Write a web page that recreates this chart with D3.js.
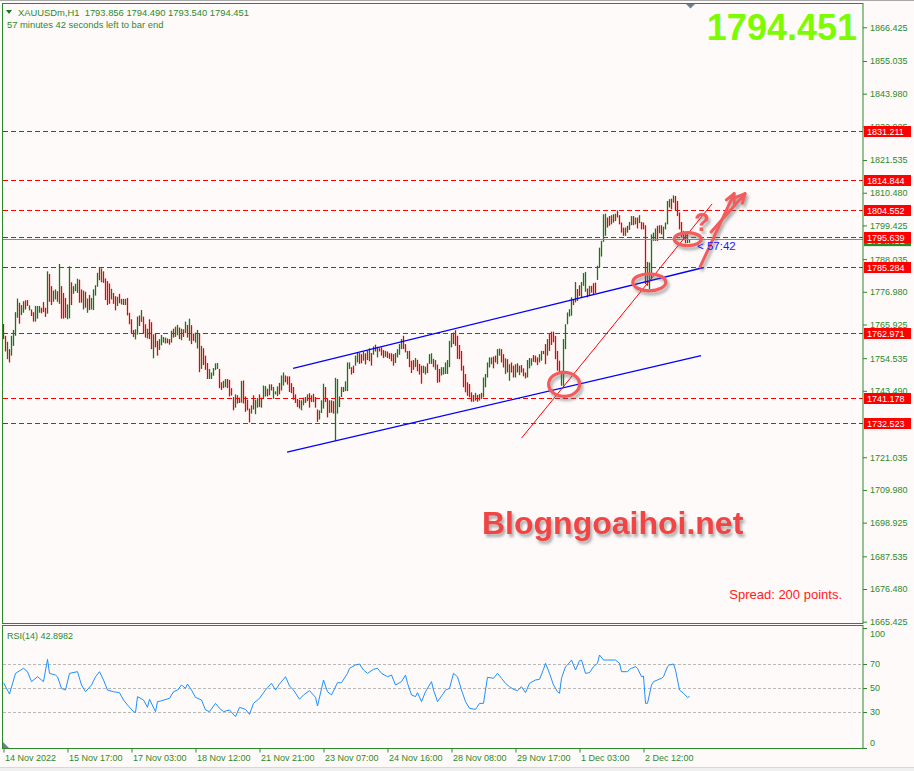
<!DOCTYPE html>
<html>
<head>
<meta charset="utf-8">
<title>XAUUSDm,H1</title>
<script src="https://cdn.jsdelivr.net/npm/d3@7"></script>
<style>
  * { margin: 0; padding: 0; }
  body { background: #fffafa; }
  svg { display: block; font-family: "Liberation Sans", Arial, sans-serif; }
</style>
</head>
<body>
<svg id="chart" width="914" height="771"></svg>
<script>
// ---- data (H1 bars, oldest first) ----
const highs = [
  1766.1,1762.1,1760.1,1757.6,1762.1,1764.1,1770.1,1774.7,1773.3,1772.5,
  1773.8,1774.1,1774.2,1772.4,1771.0,1770.1,1772.2,1772.2,1772.2,1771.6,
  1773.5,1771.6,1783.9,1783.0,1778.9,1777.4,1777.8,1777.2,1786.4,1778.9,
  1776.6,1774.9,1772.7,1785.6,1780.2,1778.9,1779.7,1781.4,1781.1,1777.8,
  1777.4,1777.0,1774.7,1775.9,1774.9,1777.8,1779.2,1783.4,1785.3,1784.9,
  1783.9,1781.5,1780.6,1779.8,1778.0,1776.6,1775.5,1775.3,1776.3,1774.6,
  1774.6,1774.6,1774.9,1769.9,1767.7,1764.1,1764.3,1768.6,1769.0,1770.8,
  1768.6,1766.0,1764.5,1767.7,1766.7,1762.6,1763.0,1760.4,1761.0,1762.4,
  1761.7,1761.5,1761.2,1761.0,1763.8,1764.5,1765.2,1765.8,1764.9,1764.5,
  1764.3,1766.9,1765.8,1767.9,1765.7,1762.9,1763.2,1764.1,1763.0,1758.7,
  1757.9,1755.4,1752.9,1750.9,1749.7,1751.2,1752.8,1752.9,1750.9,1746.4,
  1746.9,1747.5,1747.5,1747.2,1744.4,1741.4,1742.3,1742.0,1741.2,1746.8,
  1747.0,1741.6,1740.5,1737.5,1738.6,1742.0,1740.5,1741.1,1742.3,1741.2,
  1745.3,1745.1,1744.2,1745.7,1745.7,1744.8,1743.3,1745.0,1746.2,1748.7,
  1749.7,1748.7,1748.4,1748.4,1746.1,1744.8,1742.3,1740.8,1740.5,1740.3,
  1741.2,1741.4,1742.3,1742.7,1742.0,1742.5,1741.4,1737.2,1736.9,1740.3,
  1745.9,1744.8,1740.8,1740.3,1740.3,1740.0,1747.9,1747.5,1741.6,1744.8,
  1744.8,1746.7,1753.1,1753.1,1751.5,1752.0,1755.4,1756.5,1756.3,1755.9,
  1756.8,1756.2,1757.1,1757.9,1756.3,1758.5,1759.1,1758.4,1757.9,1758.2,
  1757.3,1757.0,1756.8,1756.2,1756.2,1755.9,1756.3,1757.6,1759.3,1761.0,
  1762.1,1759.3,1757.0,1757.0,1753.7,1753.9,1754.6,1754.0,1752.6,1752.0,
  1752.0,1751.7,1752.8,1755.9,1756.2,1754.3,1753.9,1752.4,1750.9,1751.5,
  1751.5,1753.1,1753.9,1760.4,1762.9,1763.2,1764.0,1762.1,1759.0,1757.0,
  1752.0,1749.2,1746.4,1745.8,1743.0,1742.1,1742.8,1742.1,1742.4,1742.8,
  1748.0,1749.2,1753.1,1754.8,1754.8,1755.1,1755.4,1757.6,1757.8,1757.6,
  1755.9,1754.5,1754.2,1752.5,1753.1,1752.0,1752.5,1752.8,1752.0,1752.2,
  1751.1,1749.7,1753.9,1754.6,1754.5,1755.6,1755.4,1754.8,1755.9,1757.0,
  1757.0,1759.3,1761.0,1763.0,1763.5,1763.5,1762.1,1757.0,1753.7,1750.3,
  1761.0,1766.0,1770.0,1771.1,1775.1,1774.5,1780.3,1777.9,1779.2,1780.3,
  1783.3,1783.7,1778.1,1779.0,1779.0,1779.9,1780.1,1785.8,1791.9,1794.2,
  1803.2,1803.4,1802.1,1802.6,1802.9,1803.2,1803.4,1804.5,1802.9,1800.4,
  1798.7,1798.7,1799.3,1800.6,1802.6,1802.6,1802.1,1802.1,1802.9,1800.6,
  1800.4,1799.5,1787.1,1786.9,1796.4,1797.0,1798.4,1799.3,1799.5,1799.5,
  1799.0,1800.4,1807.7,1808.3,1808.5,1809.6,1809.4,1807.7,1803.8,1800.6,
  1797.6,1797.0,1796.4,1794.49
];
const lows = [
  1761.0,1756.8,1754.2,1753.1,1755.4,1758.7,1762.1,1768.2,1766.2,1769.1,
  1769.9,1771.0,1772.2,1770.7,1768.8,1766.9,1766.9,1767.9,1769.9,1769.7,
  1770.1,1768.5,1769.6,1773.6,1772.5,1773.6,1774.4,1773.6,1772.9,1767.9,
  1767.9,1768.2,1767.7,1768.0,1772.5,1776.3,1777.2,1776.6,1773.3,1773.3,
  1771.0,1771.6,1769.9,1770.8,1771.0,1770.8,1775.7,1778.7,1780.9,1780.2,
  1780.0,1774.2,1772.5,1772.9,1774.4,1772.9,1770.7,1772.2,1773.1,1772.7,
  1772.5,1772.5,1769.0,1766.0,1763.0,1761.7,1760.9,1762.5,1765.4,1766.8,
  1763.0,1761.5,1761.2,1761.0,1757.6,1754.5,1758.2,1755.4,1757.3,1758.9,
  1759.8,1759.5,1759.6,1759.1,1759.8,1761.5,1761.7,1762.3,1761.0,1760.6,
  1761.7,1763.0,1761.5,1760.4,1759.3,1760.4,1759.8,1757.8,1749.8,1750.9,
  1752.2,1750.6,1747.5,1747.5,1747.5,1748.6,1750.5,1750.9,1744.4,1743.8,
  1744.4,1744.7,1744.4,1741.6,1741.9,1736.9,1737.8,1739.2,1739.4,1739.5,
  1739.2,1736.4,1736.9,1732.8,1735.8,1737.2,1735.6,1737.8,1738.0,1737.8,
  1740.8,1741.6,1741.6,1742.0,1743.6,1740.8,1742.3,1741.7,1742.3,1743.6,
  1745.3,1746.4,1745.6,1743.1,1742.7,1740.5,1739.4,1738.0,1737.5,1736.9,
  1738.6,1739.4,1740.0,1737.8,1739.7,1739.7,1737.8,1733.0,1733.8,1736.0,
  1737.5,1739.7,1734.5,1736.0,1736.1,1735.8,1726.6,1735.8,1738.0,1741.4,
  1743.1,1743.4,1743.4,1750.9,1749.0,1749.5,1752.0,1753.1,1752.6,1752.8,
  1753.7,1752.4,1753.9,1753.5,1752.0,1755.7,1756.8,1754.8,1756.8,1755.4,
  1754.6,1755.0,1754.6,1754.3,1753.5,1752.0,1752.9,1754.8,1755.7,1757.6,
  1757.6,1756.5,1754.3,1751.5,1749.5,1750.6,1751.5,1750.1,1749.0,1745.9,
  1749.5,1749.0,1749.5,1752.6,1752.6,1751.5,1750.6,1746.2,1746.4,1748.7,
  1749.0,1749.2,1749.2,1751.5,1758.2,1759.3,1758.7,1754.3,1754.2,1750.3,
  1744.7,1743.0,1741.8,1741.3,1739.8,1739.8,1740.2,1739.8,1740.2,1740.7,
  1741.3,1744.7,1748.0,1751.4,1752.5,1751.1,1753.1,1752.5,1755.4,1753.1,
  1751.4,1749.2,1749.7,1746.9,1749.7,1748.0,1748.0,1749.7,1748.8,1749.7,
  1748.4,1747.7,1748.0,1751.1,1752.0,1753.3,1753.1,1752.2,1753.1,1753.7,
  1755.9,1752.5,1755.4,1757.0,1759.0,1759.9,1754.2,1750.3,1749.7,1745.2,
  1745.2,1757.6,1766.0,1768.6,1768.9,1772.5,1773.4,1773.9,1775.6,1775.1,
  1779.0,1777.0,1775.1,1775.6,1776.7,1776.2,1776.5,1781.0,1785.2,1788.9,
  1793.9,1795.9,1798.7,1799.3,1799.8,1800.4,1800.9,1802.1,1799.8,1797.0,
  1795.9,1795.9,1797.0,1797.9,1799.5,1799.5,1799.8,1798.4,1800.2,1798.1,
  1798.1,1779.6,1779.0,1777.9,1781.2,1794.2,1794.2,1794.2,1796.8,1796.4,
  1794.8,1798.1,1799.8,1805.5,1804.9,1807.1,1804.3,1802.6,1798.1,1795.3,
  1794.8,1793.4,1793.4,1793.54
];
// u = bullish bar (green), d = bearish bar (red)
const barDirs = (
  "dduduuuudu" + "uddudduuud" + "ddudduudud" + "dduuduuudd" + "ududuuuudu" +
  "dddduddudu" + "dudddduudu" + "dduddudduu" + "uudduduudu" + "dududduudu" +
  "ddduuuuudd" + "uudddduddu" + "dddduduudu" + "uududuuudu" + "uddddddddu" +
  "udududdduu" + "uddudduuuu" + "duuudduudd" + "uddudududd" + "dudddduuuu" +
  "dduddduddd" + "uuduududdu" + "uuuuuddddd" + "ddddddudud" + "uuuuudduud" +
  "dududdudud" + "dduuuddduu" + "dduddddddu" + "uuuuududdu" + "uududdduuu" +
  "uuddududdd" + "duduududud" + "dduuuuudud" + "uuuududddd" + "dduu"
).split("");

// RSI(14) read at these bar indexes
const rsiBars = [0,3,6,10,12,14,17,20,22,23,26,27,29,31,33,37,39,41,44,46,48,50,52,55,58,60,62,65,66,67,
  70,72,73,76,77,79,83,85,87,89,91,92,94,96,99,101,103,106,108,110,113,116,118,121,123,125,128,131,134,136,
  138,141,143,145,148,150,153,156,157,160,162,164,167,169,172,173,176,178,180,182,185,187,189,192,194,196,199,201,202,204,
  206,207,209,211,214,215,217,220,221,223,225,227,229,231,233,236,238,240,241,242,245,247,249,251,253,255,257,259,261,263,
  266,268,270,271,273,275,277,278,279,281,282,284,286,288,289,291,293,295,297,298,300,302,306,308,309,312,313,314,316,317,
  319,320,321,322,324,325,327,329,330,332,333,335,336,338,340,342,343];
const rsiVals = [54.4,45,62.2,66.4,63.6,55.3,59.4,55.3,73.9,62.2,60.8,59.4,49.7,48.3,62.2,63.6,52.5,46.9,52.5,59.4,63.6,56.7,48.3,46.9,46.1,40,35.8,30.3,29.5,42.8,
  40,33.9,40.6,30.3,38.6,39.4,41.4,46.9,48.3,52.5,49.7,53.3,48.3,42.2,40,31.7,30.3,37.2,33.1,30.3,31.7,26.1,33.9,32.2,28,37.2,41.4,48.3,53.9,48.3,
  53.3,59.4,51.7,48.3,40.6,44.2,47.8,42.2,35,56.7,46.9,44.2,54.4,54.4,62.2,66.4,69.2,70,65,62.2,65.6,66.4,62.2,59.4,60.8,52.5,55.3,60.8,53.9,44.2,
  42.8,46.1,38.6,46.9,55.3,48.3,38.6,45.6,48.3,49.7,62.2,59.4,48.3,38.6,33.1,32.2,37.2,37.2,48.3,58.9,58.1,62.2,58.1,53.9,51.1,48.9,47.8,51.1,46.1,53.9,
  56.7,57.2,65.6,70.6,62.2,52.5,46.9,45.6,58.1,67.8,69.2,73.3,65,72.8,73.3,62.2,62.8,67.8,70.6,77.5,73.3,73.3,73.3,70.6,63.6,63.6,65.6,66.4,67.8,66.4,
  59.4,60,37.2,37.2,52.5,55.3,56.7,58.1,59.4,67.8,69.2,70,65,48.3,45.6,42.2,42.8982];

const priceTicks = [1866.425,1855.035,1843.980,1832.925,1821.535,1810.480,1799.425,1788.035,1776.980,
  1765.925,1754.535,1743.490,1721.035,1709.980,1698.925,1687.535,1676.480,1665.425];
const levels = [1831.211,1814.844,1804.552,1795.639,1785.284,1762.971,1741.178,1732.523];
const lastPrice = 1794.451;
const rsiLevels = [70, 50, 30];
const rsiTicks = [100, 70, 50, 30, 0];
const timeIdx = [0,32,64,96,128,160,192,224,256,288,320];
const timeLabels = ["14 Nov 2022","15 Nov 17:00","17 Nov 03:00","18 Nov 12:00","21 Nov 21:00","23 Nov 07:00",
  "24 Nov 16:00","28 Nov 08:00","29 Nov 17:00","1 Dec 03:00","2 Dec 12:00"];

// drawn objects: [bar index, price] anchors
const channelLines = [[[144.8,1751.1],[350.1,1785.2]], [[141.8,1722.8],[348.8,1755.4]]];
const trendLine = [[259,1727.5],[354.3,1806.7]];
const circles = [[280.3,1745.7,15.5,12], [322.9,1780.2,16.5,8.5], [342.1,1794.8,13.5,6.5]];
const arrows = [[[348.3,1785.4],[365.3,1810.2]], [[353.8,1797.2],[370.8,1810.2]]];

// ---- setup ----
const green = "#0e7c0e", red = "#ee0000", txtGreen = "#2a8a2a", frame = "#2a8a2a", mark = "#f25c5c";
const svg = d3.select("#chart");

const x = d3.scaleLinear().domain([0, 343]).range([3.5, 689.5]);
const y = d3.scaleLinear().domain([1665.425, 1866.425]).range([621.7, 27.3]);
const yr = d3.scaleLinear().domain([0, 100]).range([748, 628]);

const defs = svg.append("defs");
defs.append("clipPath").attr("id", "clipMain").append("rect")
  .attr("x", 3).attr("y", 4).attr("width", 860).attr("height", 619);
defs.append("clipPath").attr("id", "clipRsi").append("rect")
  .attr("x", 3).attr("y", 626).attr("width", 860).attr("height", 122);
defs.append("filter").attr("id", "shadow").attr("x", "-30%").attr("y", "-30%").attr("width", "160%").attr("height", "160%")
  .append("feDropShadow").attr("dx", 2).attr("dy", 3).attr("stdDeviation", 1.6)
  .attr("flood-color", "#666").attr("flood-opacity", 0.55);

svg.append("rect").attr("width", 914).attr("height", 771).attr("fill", "#fffafa");
svg.append("line").attr("x1", 0).attr("x2", 914).attr("y1", 0.5).attr("y2", 0.5).attr("stroke", "#a8a8a8");
svg.append("rect").attr("x", 0).attr("y", 767).attr("width", 914).attr("height", 4).attr("fill", "#f0f0f0");
svg.append("line").attr("x1", 0).attr("x2", 914).attr("y1", 767.5).attr("y2", 767.5).attr("stroke", "#d8d8d8");

// ---- main window ----
const main = svg.append("g").attr("clip-path", "url(#clipMain)");

main.selectAll("rect.bar").data(highs).join("rect")
  .attr("class", "bar")
  .attr("x", (d, i) => x(i) - 0.65)
  .attr("y", d => y(d))
  .attr("width", 1.3)
  .attr("height", (d, i) => Math.max(1, y(lows[i]) - y(d)))
  .attr("fill", (d, i) => barDirs[i] === "u" ? green : red);

main.selectAll("line.level").data(levels).join("line")
  .attr("class", "level")
  .attr("x1", 3).attr("x2", 863)
  .attr("y1", d => Math.round(y(d)) + 0.5).attr("y2", d => Math.round(y(d)) + 0.5)
  .attr("stroke", "#ff0000").attr("stroke-width", 1.1).attr("stroke-dasharray", "5,3")
  .attr("shape-rendering", "crispEdges");

main.append("line")
  .attr("x1", 3).attr("x2", 863)
  .attr("y1", Math.round(y(lastPrice)) - 0.5).attr("y2", Math.round(y(lastPrice)) - 0.5)
  .attr("stroke", "#8a8a8a").attr("shape-rendering", "crispEdges");

main.selectAll("line.channel").data(channelLines).join("line")
  .attr("class", "channel")
  .attr("x1", d => x(d[0][0])).attr("y1", d => y(d[0][1]))
  .attr("x2", d => x(d[1][0])).attr("y2", d => y(d[1][1]))
  .attr("stroke", "#0000ff").attr("stroke-width", 1.3);

main.append("line")
  .attr("x1", x(trendLine[0][0])).attr("y1", y(trendLine[0][1]))
  .attr("x2", x(trendLine[1][0])).attr("y2", y(trendLine[1][1]))
  .attr("stroke", "#ff0000").attr("stroke-width", 1);

// hand drawn annotations
const notes = main.append("g").attr("filter", "url(#shadow)");
notes.selectAll("ellipse").data(circles).join("ellipse")
  .attr("cx", d => x(d[0])).attr("cy", d => y(d[1]))
  .attr("rx", d => d[2]).attr("ry", d => d[3])
  .attr("fill", "none").attr("stroke", mark).attr("stroke-width", 3.2);

arrows.forEach(a => {
  const x1 = x(a[0][0]), y1 = y(a[0][1]), x2 = x(a[1][0]), y2 = y(a[1][1]);
  const ang = Math.atan2(y2 - y1, x2 - x1), len = 10, spread = 0.45;
  notes.append("line").attr("x1", x1).attr("y1", y1).attr("x2", x2).attr("y2", y2)
    .attr("stroke", mark).attr("stroke-width", 3).attr("stroke-linecap", "round");
  const p = [
    [x2 - len * Math.cos(ang - spread), y2 - len * Math.sin(ang - spread)],
    [x2, y2],
    [x2 - len * Math.cos(ang + spread), y2 - len * Math.sin(ang + spread)]
  ];
  notes.append("path").attr("d", d3.line()(p))
    .attr("fill", "none").attr("stroke", mark).attr("stroke-width", 3)
    .attr("stroke-linecap", "round").attr("stroke-linejoin", "round");
});

notes.append("text").attr("x", 694).attr("y", 231).text("?")
  .attr("fill", mark).attr("font-size", 26).attr("font-weight", "bold");

svg.append("text").attr("x", 697).attr("y", 250).text("< 57:42")
  .attr("fill", "#1818ff").attr("font-size", 11.5);

svg.append("text").attr("x", 482).attr("y", 534).text("Blogngoaihoi.net")
  .attr("fill", "#f14444").attr("font-size", 32).attr("font-weight", "bold")
  .attr("filter", "url(#shadow)");

svg.append("text").attr("x", 842).attr("y", 599).attr("text-anchor", "end").text("Spread: 200 points.")
  .attr("fill", "#ff2020").attr("font-size", 13);

svg.append("text").attr("x", 857).attr("y", 40).attr("text-anchor", "end").text(lastPrice.toFixed(3))
  .attr("fill", "#7cfc00").attr("font-size", 36).attr("font-weight", "bold");

// header texts
svg.append("path").attr("d", "M6,10L12,10L9,14Z").attr("fill", "#1a7a1a");
svg.append("text").attr("x", 18).attr("y", 15.5)
  .text("XAUUSDm,H1  1793.856 1794.490 1793.540 1794.451")
  .attr("fill", txtGreen).attr("font-size", 9.4).style("white-space", "pre");
svg.append("text").attr("x", 7).attr("y", 28)
  .text("57 minutes 42 seconds left to bar end")
  .attr("fill", txtGreen).attr("font-size", 9.4);
svg.append("path").attr("d", "M686,4L695,4L690.5,8.5Z").attr("fill", "#6e7f8f");

// ---- price axis ----
const pAxis = svg.append("g").attr("transform", "translate(863,0)")
  .call(d3.axisRight(y).tickValues(priceTicks).tickSize(4).tickPadding(3).tickFormat(d3.format(".3f")));
pAxis.attr("font-family", null).attr("font-size", null);
pAxis.select(".domain").remove();
pAxis.selectAll(".tick line").attr("stroke", frame);
pAxis.selectAll(".tick text").attr("fill", txtGreen).attr("font-size", 9);

// current price tag, then level tags
svg.append("rect").attr("x", 864).attr("y", y(lastPrice) - 5).attr("width", 47).attr("height", 11).attr("fill", "#228b22");
svg.append("text").attr("x", 867).attr("y", y(lastPrice) + 3.5).text(lastPrice.toFixed(3))
  .attr("fill", "#fff").attr("font-size", 9);

const tags = svg.selectAll("g.tag").data(levels).join("g").attr("class", "tag")
  .attr("transform", d => `translate(864,${Math.round(y(d)) - 5})`);
tags.append("rect").attr("width", 47).attr("height", 11).attr("fill", "#ff0000");
tags.append("text").attr("x", 3).attr("y", 8.6).text(d => d.toFixed(3))
  .attr("fill", "#fff").attr("font-size", 9);

// ---- RSI window ----
const rsiG = svg.append("g").attr("clip-path", "url(#clipRsi)");
rsiG.selectAll("line.rl").data(rsiLevels).join("line").attr("class", "rl")
  .attr("x1", 3).attr("x2", 863)
  .attr("y1", d => Math.round(yr(d)) + 0.5).attr("y2", d => Math.round(yr(d)) + 0.5)
  .attr("stroke", "#b8b8b8").attr("stroke-dasharray", "3,2").attr("shape-rendering", "crispEdges");
rsiG.append("path")
  .datum(rsiBars.map((b, i) => [b, rsiVals[i]]))
  .attr("d", d3.line().x(d => x(d[0])).y(d => yr(d[1])))
  .attr("fill", "none").attr("stroke", "#1e90ff").attr("stroke-width", 1);
svg.append("path").attr("d", "M3,742L3,748L9,748Z").attr("fill", "#6e7f8f");

svg.append("text").attr("x", 7).attr("y", 639).text("RSI(14) " + rsiVals[rsiVals.length - 1].toFixed(4))
  .attr("fill", txtGreen).attr("font-size", 9);

const rAxis = svg.append("g").attr("transform", "translate(863,0)")
  .call(d3.axisRight(yr).tickValues(rsiTicks).tickSize(4).tickPadding(3));
rAxis.attr("font-family", null).attr("font-size", null);
rAxis.select(".domain").remove();
rAxis.selectAll(".tick line").attr("stroke", frame);
rAxis.selectAll(".tick text").attr("fill", txtGreen).attr("font-size", 9)
  .attr("dy", d => d === 100 ? "0.95em" : d === 0 ? "-0.3em" : "0.32em");

// ---- time axis ----
const tAxis = svg.append("g").attr("transform", "translate(0,748.5)")
  .call(d3.axisBottom(x).tickValues(timeIdx).tickSize(4).tickFormat((d, i) => timeLabels[i]));
tAxis.attr("font-family", null).attr("font-size", null);
tAxis.select(".domain").remove();
tAxis.selectAll(".tick line").attr("stroke", frame);
tAxis.selectAll(".tick text").attr("fill", txtGreen).attr("font-size", 9)
  .attr("text-anchor", "start").attr("x", 1).attr("y", 6);

// ---- window frames ----
svg.append("rect").attr("x", 2.5).attr("y", 3.5).attr("width", 860.5).attr("height", 620)
  .attr("fill", "none").attr("stroke", frame);
svg.append("rect").attr("x", 2.5).attr("y", 625.5).attr("width", 860.5).attr("height", 123)
  .attr("fill", "none").attr("stroke", frame);
</script>
</body>
</html>
